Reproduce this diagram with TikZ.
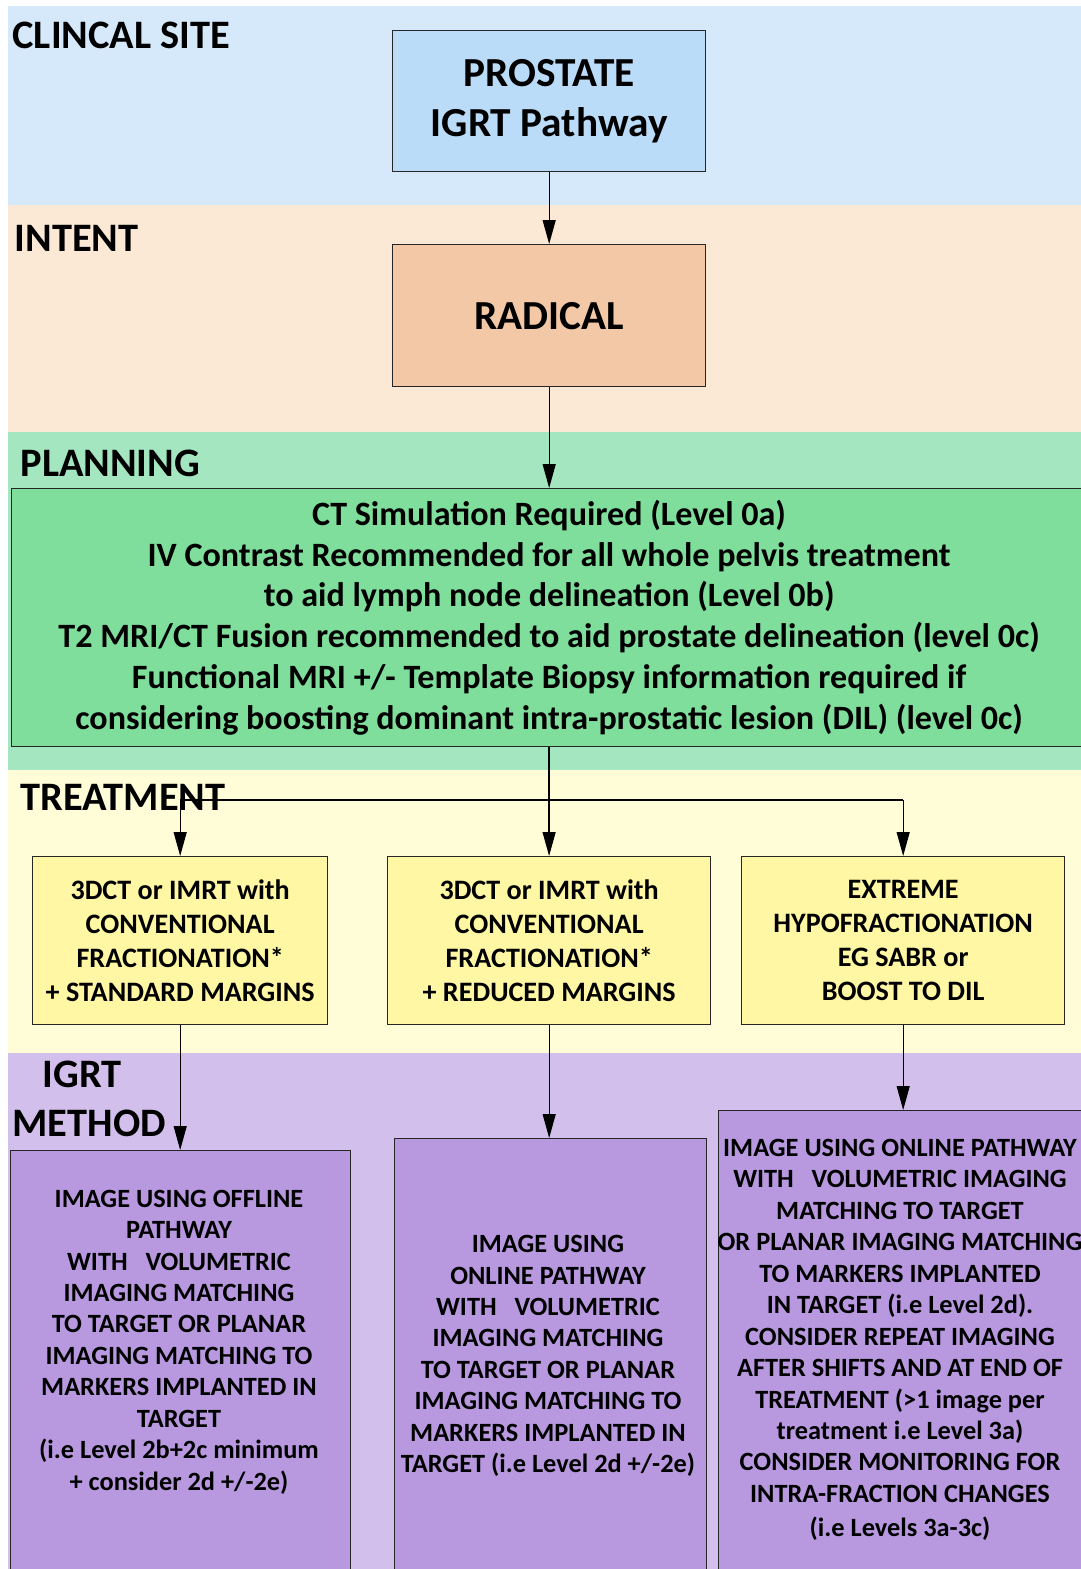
\documentclass[tikz,border=0pt]{standalone}
\usepackage{fontspec}
\setmainfont{Carlito}
\usetikzlibrary{arrows.meta, positioning}

\definecolor{siteband}{HTML}{D5E9FB}
\definecolor{intentband}{HTML}{FBE9D6}
\definecolor{planband}{HTML}{A3E6C0}
\definecolor{treatband}{HTML}{FFFDD7}
\definecolor{igrtband}{HTML}{D2BFEC}
\definecolor{sitefill}{HTML}{BBDCF8}
\definecolor{intentfill}{HTML}{F2C8A6}
\definecolor{planfill}{HTML}{7FDE9B}
\definecolor{treatfill}{HTML}{FFF7A3}
\definecolor{igrtfill}{HTML}{B899DF}

\begin{document}
\begin{tikzpicture}[
    x=0.02cm, y=-0.02cm,
    bandlabel/.style={font=\fontsize{23}{29}\selectfont\bfseries, anchor=west, inner sep=0pt, align=left},
    stepbox/.style={draw=black!85, line width=0.8pt, anchor=north west, align=center, inner sep=0pt},
    bigtext/.style={font=\fontsize{23.5}{28.5}\selectfont\bfseries},
    plantext/.style={font=\fontsize{19.4}{23.3}\selectfont\bfseries},
    treattext/.style={font=\fontsize{16}{19.3}\selectfont\bfseries},
    igrttext/.style={font=\fontsize{15}{17.9}\selectfont\bfseries, align=center, inner sep=0pt},
    >={Triangle[length=0.48cm, width=0.26cm]},
    line width=0.7pt
]

\useasboundingbox (0,0) rectangle (1081,1569);

% Background bands
\fill[siteband]   (8,6)    rectangle (1081,205);
\fill[intentband] (8,205)  rectangle (1081,432);
\fill[planband]   (8,432)  rectangle (1081,770);
\fill[treatband]  (8,770)  rectangle (1081,1053);
\fill[igrtband]   (8,1053) rectangle (1081,1569);

% Band labels
\node[bandlabel] (site_lbl)   at (12,35)   {CLINCAL SITE};
\node[bandlabel] (intent_lbl) at (14,238)  {INTENT};
\node[bandlabel] (plan_lbl)   at (20,463)  {PLANNING};
\node[bandlabel] (treat_lbl)  at (20,797)  {TREATMENT};
\node[bandlabel] (igrt_lbl)   at (12,1099) {\hspace{0.6cm}IGRT\\[-0.05cm]METHOD};

% Site and intent
\node[stepbox, bigtext, fill=sitefill, minimum width=6.26cm, minimum height=2.82cm] (prostate) at (392,30) {PROSTATE\\IGRT Pathway};
\node[stepbox, bigtext, fill=intentfill, minimum width=6.26cm, minimum height=2.84cm] (radical) at (392,244) {RADICAL};

% Planning
\node[stepbox, plantext, fill=planfill, minimum width=21.5cm, minimum height=5.16cm] (planning) at (11,488) {CT Simulation Required (Level 0a)\\
IV Contrast Recommended for all whole pelvis treatment\\
to aid lymph node delineation (Level 0b)\\
T2 MRI/CT Fusion recommended to aid prostate delineation (level 0c)\\
Functional MRI +/- Template Biopsy information required if\\
considering boosting dominant intra-prostatic lesion (DIL) (level 0c)};

% Treatment options
\node[stepbox, treattext, fill=treatfill, minimum width=5.9cm, minimum height=3.36cm] (t1) at (32,856) {3DCT or IMRT with\\CONVENTIONAL\\FRACTIONATION*\\+ STANDARD MARGINS};
\node[stepbox, treattext, fill=treatfill, minimum width=6.46cm, minimum height=3.36cm] (t2) at (387,856) {3DCT or IMRT with\\CONVENTIONAL\\FRACTIONATION*\\+ REDUCED MARGINS};
\node[stepbox, treattext, fill=treatfill, minimum width=6.46cm, minimum height=3.36cm] (t3) at (741,856) {EXTREME\\HYPOFRACTIONATION\\EG SABR or\\BOOST TO DIL};

% IGRT methods (boxes run off the page)
\node[stepbox, fill=igrtfill, minimum width=6.8cm, minimum height=8.6cm] (g1) at (10,1150) {};
\node[stepbox, fill=igrtfill, minimum width=6.24cm, minimum height=8.84cm] (g2) at (394,1138) {};
\node[stepbox, fill=igrtfill, minimum width=7.44cm, minimum height=9.4cm] (g3) at (718,1110) {};

\node[igrttext] (g1_txt) at (179,1342) {IMAGE USING OFFLINE\\PATHWAY\\WITH \ \ VOLUMETRIC\\IMAGING MATCHING\\TO TARGET OR PLANAR\\IMAGING MATCHING TO\\MARKERS IMPLANTED IN\\TARGET\\(i.e Level 2b+2c minimum\\+ consider 2d +/-2e)};
\node[igrttext] (g2_txt) at (548,1356) {IMAGE USING\\ONLINE PATHWAY\\WITH \ \ VOLUMETRIC\\IMAGING MATCHING\\TO TARGET OR PLANAR\\IMAGING MATCHING TO\\MARKERS IMPLANTED IN\\TARGET (i.e Level 2d +/-2e)};
\node[igrttext] (g3_txt) at (900,1340) {IMAGE USING ONLINE PATHWAY\\WITH \ \ VOLUMETRIC IMAGING\\MATCHING TO TARGET\\OR PLANAR IMAGING MATCHING\\TO MARKERS IMPLANTED\\IN TARGET (i.e Level 2d).\\CONSIDER REPEAT IMAGING\\AFTER SHIFTS AND AT END OF\\TREATMENT (>1 image per\\treatment i.e Level 3a)\\CONSIDER MONITORING FOR\\INTRA-FRACTION CHANGES\\[0.06cm](i.e Levels 3a-3c)};

% Connectors
\draw[->] (prostate.south) -- (prostate.south |- radical.north);
\draw[->] (radical.south) -- (radical.south |- planning.north);
\draw[->] (planning.south) -- (planning.south |- t2.north);

\coordinate (split) at (548,800);
\draw (t1.north |- split) -- (t3.north |- split);
\foreach \t in {t1,t3} {
    \draw[->] (\t.north |- split) -- (\t.north);
}

\foreach \t/\g in {t1/g1, t2/g2, t3/g3} {
    \draw[->] (\t.south) -- (\t.south |- \g.north);
}

\end{tikzpicture}
\end{document}
